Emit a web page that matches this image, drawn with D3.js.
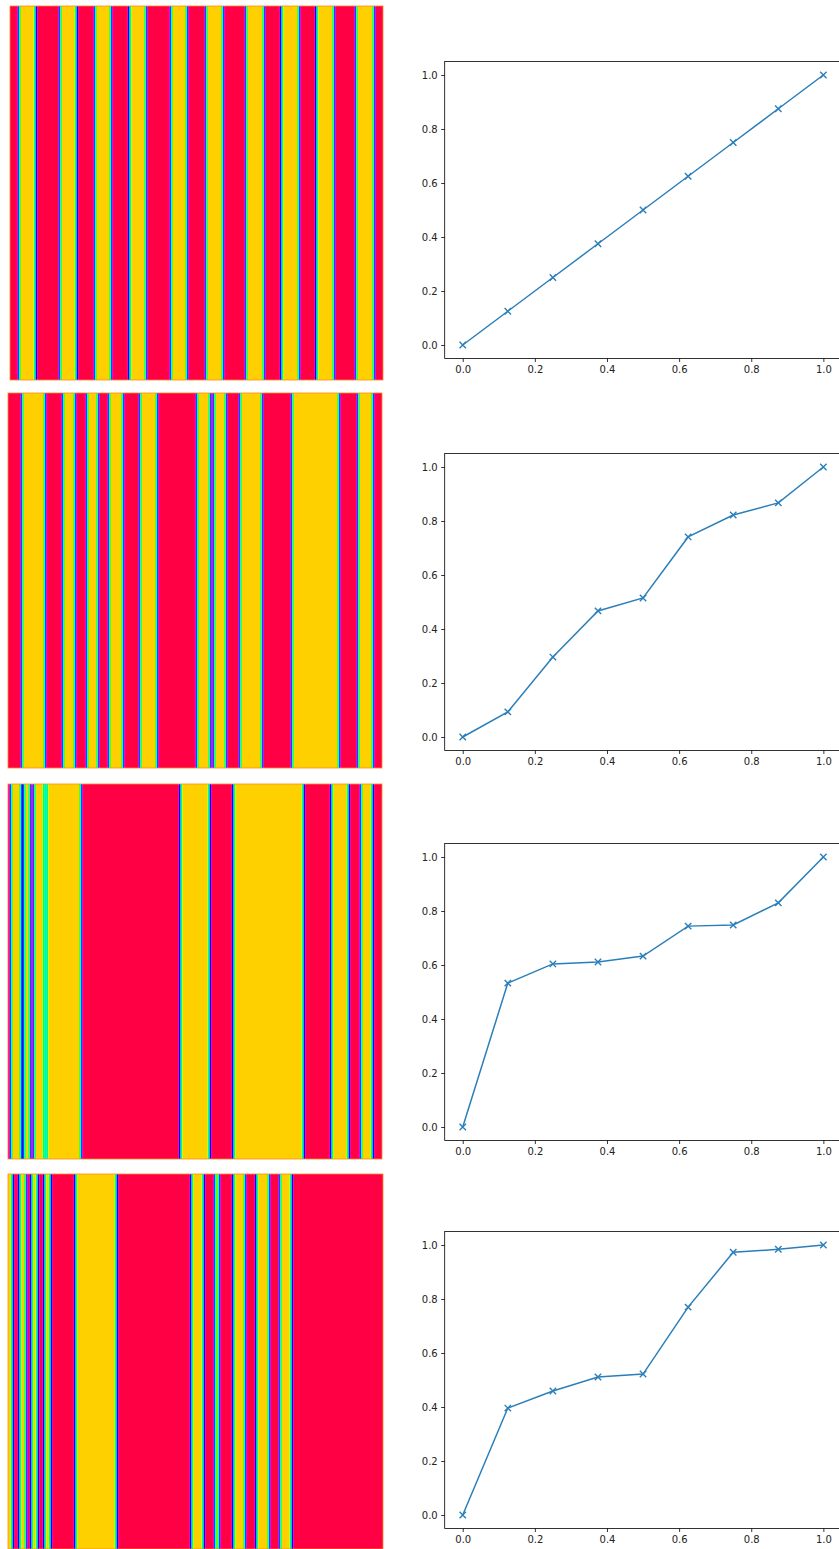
<!DOCTYPE html>
<html>
<head>
<meta charset="utf-8">
<script src="https://cdn.jsdelivr.net/npm/d3@7"></script>
<style>
  body { margin: 0; background: #fff; }
  text { font-family: "DejaVu Sans", sans-serif; }
</style>
</head>
<body>
<svg id="chart" width="839" height="1549"></svg>
<script>
// x positions of the curve points
var quantiles = [0, 0.125, 0.25, 0.375, 0.5, 0.625, 0.75, 0.875, 1];

var curve1 = [0, 0.125, 0.25, 0.375, 0.5, 0.625, 0.75, 0.875, 1];
var curve2 = [0, 0.093, 0.296, 0.467, 0.515, 0.741, 0.822, 0.867, 1];
var curve3 = [0, 0.533, 0.604, 0.611, 0.633, 0.744, 0.748, 0.830, 1];
var curve4 = [0, 0.396, 0.459, 0.511, 0.522, 0.770, 0.973, 0.984, 1];

var xTicks = [0, 0.2, 0.4, 0.6, 0.8, 1];
var yTicks = [0, 0.2, 0.4, 0.6, 0.8, 1];

// stripe images: colour flips at every edge (image columns), 0 = red, 1 = yellow
var cols1 = 373, first1 = 0;
var edges1 = [9, 25.5, 50, 66.5, 85, 101, 119.5, 136, 161, 177, 196, 213, 236, 254, 271.5, 289, 306.5, 324, 346, 364];
var cols2 = 374, first2 = 0;
var edges2 = [14, 37, 55, 67, 79, 90, 101, 115, 132, 149, 189, 202, 206, 218, 232, 254, 284, 331, 350, 365];
var cols3 = 374, first3 = 0;
var edges3 = [3, 13, 16, 22, 26, 36.5, 38.5, 73, 172.5, 201.5, 225.5, 295.5, 323.5, 340.5, 353, 364.5];
var cols4 = 375, first4 = 1;
var edges4 = [4.5, 11.5, 18, 23.5, 29.5, 36.5, 42.5, 67.5, 108.5, 183.5, 195.5, 207, 211, 225.5, 237, 248.5, 261, 272, 283.5];

var svg = d3.select("#chart");
var defs = svg.append("defs");

// red -> magenta -> blue -> cyan -> green -> yellow
function cmap(t) {
  return d3.hsl(344 - t * 295, 1, 0.5).formatHex();
}

function stepAt(u, edges, first) {
  var n = 0;
  for (var i = 0; i < edges.length; i++) if (edges[i] <= u) n++;
  return (first + n) % 2;
}

// average of the step function over a small window -> smooth blend at edges
function blendAt(u, edges, first) {
  var w = 5, s = 0, k = 12;
  for (var i = 0; i < k; i++) s += stepAt(u - w / 2 + w * (i + 0.5) / k, edges, first);
  return s / k;
}

var rows = [
  {img: [10, 6, 373, 374], cols: cols1, edges: edges1, first: first1, curve: curve1, zero: 345, one: 75},
  {img: [8, 393, 374, 375], cols: cols2, edges: edges2, first: first2, curve: curve2, zero: 737, one: 467},
  {img: [8, 784, 374, 375], cols: cols3, edges: edges3, first: first3, curve: curve3, zero: 1127, one: 857},
  {img: [8, 1174, 375, 375], cols: cols4, edges: edges4, first: first4, curve: curve4, zero: 1515, one: 1245}
];

var x = d3.scaleLinear().domain([-0.05, 1.05]).range([444.7, 841.4]);

rows.forEach(function(r, i) {
  // ---- stripe image ----
  var col = d3.scaleLinear().domain([0, r.cols]).range([r.img[0], r.img[0] + r.img[2]]);
  var gid = "stripes" + i;
  var grad = defs.append("linearGradient")
    .attr("id", gid)
    .attr("gradientUnits", "userSpaceOnUse")
    .attr("x1", col(0)).attr("x2", col(r.cols))
    .attr("y1", 0).attr("y2", 0);
  var us = d3.range(0, r.cols + 0.01, 0.5);
  grad.selectAll("stop")
    .data(us)
    .enter().append("stop")
    .attr("offset", function(u) { return u / r.cols; })
    .attr("stop-color", function(u) { return cmap(blendAt(u, r.edges, r.first)); });

  svg.append("rect")
    .attr("x", col(0)).attr("y", r.img[1])
    .attr("width", col(r.cols) - col(0)).attr("height", r.img[3])
    .attr("fill", "url(#" + gid + ")")
    .attr("stroke", "#ff8a1e")
    .attr("stroke-opacity", 0.8)
    .attr("stroke-width", 1);

  // ---- line plot ----
  var y = d3.scaleLinear().domain([-0.05, 1.05]).range([r.zero + 13.5, r.one - 13.5]);
  var g = svg.append("g");

  g.append("g")
    .attr("transform", "translate(0," + y(-0.05) + ")")
    .call(d3.axisBottom(x).tickValues(xTicks).tickFormat(d3.format(".1f")).tickSize(3.5).tickPadding(3.5).tickSizeOuter(0));
  g.append("g")
    .attr("transform", "translate(" + x(-0.05) + ",0)")
    .call(d3.axisLeft(y).tickValues(yTicks).tickFormat(d3.format(".1f")).tickSize(3.5).tickPadding(3.5).tickSizeOuter(0));

  g.selectAll(".domain").remove();
  g.selectAll(".tick line").attr("stroke", "#000").attr("stroke-width", 0.8);
  g.selectAll(".tick text").attr("font-size", 10).attr("fill", "#222")
    .attr("font-family", "DejaVu Sans, sans-serif");

  g.append("rect")
    .attr("x", x(-0.05)).attr("y", y(1.05))
    .attr("width", x(1.05) - x(-0.05)).attr("height", y(-0.05) - y(1.05))
    .attr("fill", "none").attr("stroke", "#000").attr("stroke-width", 0.8);

  var pts = quantiles.map(function(q, j) { return [q, r.curve[j]]; });

  g.append("path")
    .datum(pts)
    .attr("fill", "none")
    .attr("stroke", "#2a7fba")
    .attr("stroke-width", 1.5)
    .attr("d", d3.line().x(function(d) { return x(d[0]); }).y(function(d) { return y(d[1]); }));

  g.selectAll(".mark")
    .data(pts)
    .enter().append("path")
    .attr("class", "mark")
    .attr("transform", function(d) { return "translate(" + x(d[0]) + "," + y(d[1]) + ")"; })
    .attr("d", "M-3.2,-3.2L3.2,3.2M-3.2,3.2L3.2,-3.2")
    .attr("stroke", "#2a7fba")
    .attr("stroke-width", 1.4);
});
</script>
</body>
</html>
